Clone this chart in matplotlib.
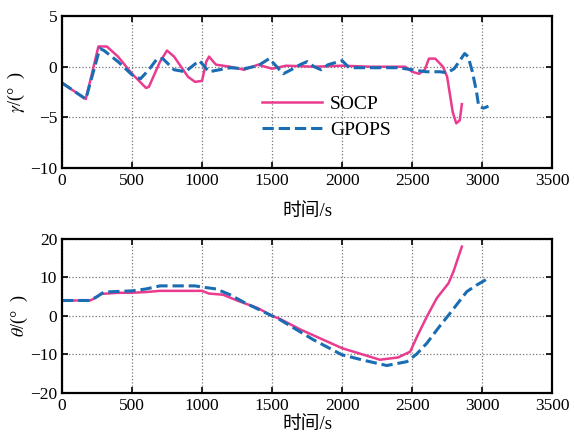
import matplotlib
matplotlib.use("Agg")
import matplotlib.pyplot as plt

plt.rcParams['font.family'] = ['Liberation Serif', 'Noto Sans CJK SC']
plt.rcParams['mathtext.fontset'] = 'stix'

# gamma (flight path angle) curves
g_socp_t = [0, 170, 260, 320, 400, 500, 600, 620, 700, 750, 800, 900, 950, 1000, 1030, 1050, 1080,
            1100, 1200, 1300, 1400, 1500, 1600, 1800, 2000, 2200, 2450, 2500, 2550, 2590, 2620, 2665,
            2720, 2750, 2790, 2815, 2840, 2855]
g_socp_v = [-1.6, -3.2, 2.0, 2.0, 1.0, -0.7, -2.1, -2.0, 0.5, 1.6, 1.0, -1.0, -1.5, -1.4, 0.5, 1.0, 0.5,
            0.2, 0.0, -0.3, 0.2, -0.2, 0.1, 0.0, 0.1, 0.0, 0.0, -0.5, -0.7, -0.3, 0.8, 0.8,
            0.0, -1.0, -4.5, -5.6, -5.3, -3.7]
g_gpops_t = [0, 170, 270, 300, 400, 500, 560, 620, 680, 720, 800, 880, 980, 1000, 1050, 1200, 1300,
             1400, 1480, 1520, 1580, 1650, 1700, 1750, 1800, 1850, 1900, 2000, 2050, 2200, 2400,
             2500, 2600, 2700, 2750, 2800, 2850, 2875, 2900, 2930, 2960, 2975, 3010, 3045]
g_gpops_v = [-1.6, -3.2, 1.8, 1.6, 0.5, -0.8, -1.2, -0.3, 0.8, 0.8, -0.3, -0.5, 0.6, 0.3, -0.5, -0.1, -0.2,
             0.1, 0.8, 0.2, -0.7, -0.2, 0.2, 0.5, 0.0, -0.3, 0.2, 0.6, -0.1, -0.1, -0.1,
             -0.3, -0.5, -0.5, -0.6, -0.2, 0.8, 1.3, 1.0, -0.5, -2.5, -3.9, -4.1, -3.9]

# theta curves
th_socp_t = [0, 200, 230, 280, 400, 500, 600, 700, 1000, 1050, 1150, 1250, 1400, 1500, 1557, 1700,
             2000, 2270, 2400, 2486, 2540, 2605, 2676, 2760, 2795, 2855]
th_socp_v = [4.0, 4.0, 4.5, 5.7, 6.0, 6.0, 6.2, 6.5, 6.5, 5.8, 5.5, 4.0, 2.0, 0.0, -0.8, -3.5,
             -8.4, -11.4, -10.8, -9.3, -5.0, -0.2, 4.6, 8.5, 11.5, 18.0]
th_gpops_t = [0, 200, 250, 300, 500, 600, 700, 950, 1000, 1100, 1200, 1300, 1500, 1557, 1795,
              1998, 2150, 2319, 2462, 2530, 2605, 2690, 2771, 2890, 2960, 3045]
th_gpops_v = [4.0, 4.0, 5.0, 6.2, 6.5, 7.0, 7.8, 7.8, 7.5, 7.0, 5.5, 3.5, 0.0, -1.0, -6.2,
              -10.1, -11.5, -12.9, -11.9, -10.0, -7.1, -3.0, 0.7, 6.3, 8.0, 9.8]

pink = '#ea3b8f'
blue = '#1a6db3'

fig = plt.figure(figsize=(5.74, 4.36), dpi=100)
ax1 = fig.add_axes([0.108, 0.615, 0.854, 0.348])
ax2 = fig.add_axes([0.108, 0.099, 0.854, 0.353])

def style(ax, ylim, yticks, pad):
    ax.set_xlim(0, 3500)
    ax.set_ylim(*ylim)
    ax.set_xticks(range(0, 3501, 500))
    ax.set_yticks(yticks)
    ax.grid(True, linestyle=':', color='#777777', linewidth=0.9)
    for s in ax.spines.values():
        s.set_linewidth(1.6)
    ax.tick_params(direction='in', top=True, right=True, labelsize=12.5, width=1.2, length=4)
    ax.set_xlabel('时间/s', fontsize=13.5, labelpad=pad)

ax1.plot(g_socp_t, g_socp_v, color=pink, lw=1.8, label='SOCP')
ax1.plot(g_gpops_t, g_gpops_v, color=blue, lw=2.2, ls='--', label='GPOPS')
style(ax1, (-10, 5), [-10, -5, 0, 5], 10)
ax1.set_ylabel(r'$\gamma$/(°  )', fontsize=13, labelpad=2)
ax1.legend(loc='center left', bbox_to_anchor=(0.38, 0.335), frameon=False, fontsize=14,
           handlelength=3.1, handletextpad=0.4, labelspacing=0.45, borderpad=0.2)

ax2.plot(th_socp_t, th_socp_v, color=pink, lw=1.8)
ax2.plot(th_gpops_t, th_gpops_v, color=blue, lw=2.2, ls='--')
style(ax2, (-20, 20), [-20, -10, 0, 10, 20], 2)
ax2.set_ylabel(r'$\theta$/(°  )', fontsize=13, labelpad=0)

fig.savefig('out.png', dpi=100)
